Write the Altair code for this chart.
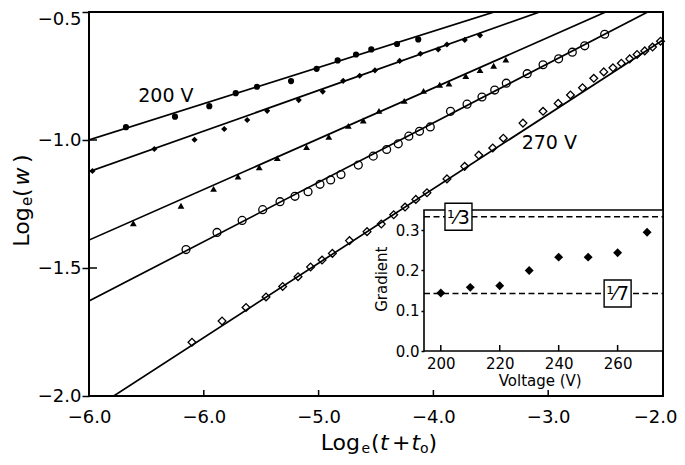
import altair as alt
import pandas as pd

FONT = "DejaVu Sans"
MINUS = "\u2212"

# ---------------- main plot data: Log_e(t + t0) vs Log_e(w) ----------------
s200_x = [-6.678, -6.251, -5.952, -5.722, -5.537, -5.240, -5.017, -4.834, -4.674, -4.541, -4.317, -4.132]
s200_y = [-0.950, -0.909, -0.868, -0.817, -0.792, -0.770, -0.722, -0.689, -0.666, -0.646, -0.625, -0.607]

s210_x = [-6.970, -6.431, -6.081, -5.822, -5.622, -5.448, -5.173, -4.964, -4.786, -4.642, -4.509,
          -4.294, -4.113, -3.958, -3.882, -3.727, -3.594]
s210_y = [-1.121, -1.035, -0.999, -0.957, -0.922, -0.886, -0.844, -0.811, -0.769, -0.749, -0.728,
          -0.691, -0.663, -0.646, -0.627, -0.609, -0.591]

s230_x = [-6.614, -6.199, -5.915, -5.702, -5.517, -5.360, -5.105, -4.911, -4.741, -4.611, -4.474,
          -4.254, -4.086, -3.945, -3.864, -3.718, -3.594, -3.475, -3.369]
s230_y = [-1.325, -1.257, -1.191, -1.143, -1.107, -1.071, -1.028, -0.988, -0.945, -0.924, -0.886,
          -0.847, -0.808, -0.784, -0.780, -0.750, -0.727, -0.710, -0.686]

s240_x = [-6.155, -5.885, -5.666, -5.487, -5.336, -5.206, -5.092, -4.988, -4.895, -4.805, -4.654,
          -4.524, -4.407, -4.306, -4.214, -4.121, -4.027, -3.851, -3.707, -3.577, -3.466, -3.365,
          -3.183, -3.045, -2.909, -2.790, -2.682, -2.508]
s240_y = [-1.428, -1.361, -1.314, -1.272, -1.241, -1.220, -1.202, -1.173, -1.156, -1.135, -1.098,
          -1.063, -1.037, -1.015, -0.985, -0.966, -0.949, -0.888, -0.860, -0.832, -0.805, -0.778,
          -0.741, -0.706, -0.683, -0.657, -0.632, -0.587]

s270_x = [-6.103, -5.841, -5.632, -5.458, -5.313, -5.179, -5.070, -4.970, -4.880, -4.731, -4.578,
          -4.454, -4.346, -4.247, -4.153, -4.056, -3.882, -3.728, -3.605, -3.483, -3.391, -3.220,
          -3.045, -2.913, -2.806, -2.701, -2.603, -2.516, -2.436, -2.363, -2.290, -2.226, -2.159,
          -2.091, -2.022]
s270_y = [-1.790, -1.707, -1.654, -1.613, -1.572, -1.534, -1.496, -1.469, -1.443, -1.393, -1.358,
          -1.328, -1.292, -1.262, -1.232, -1.206, -1.152, -1.103, -1.059, -1.031, -0.993, -0.934,
          -0.888, -0.857, -0.824, -0.796, -0.759, -0.734, -0.718, -0.700, -0.683, -0.666, -0.652,
          -0.637, -0.614]

# fitted straight lines (value at left edge and gradient)
fit_series = ["200 V", "210 V", "230 V", "240 V", "270 V"]
fit_slopes = [0.1417, 0.159, 0.198, 0.232, 0.2907]
fit_at_left = [-1.0, -1.124, -1.391, -1.629, -2.0625]

label_text = ["200 V", "270 V"]
label_x = [-6.571, -3.231]
label_y = [-0.830, -1.0125]

x_domain = [-7.0, -2.0]
y_domain = [-2.0, -0.5]
x_ticks = [-7.0, -6.0, -5.0, -4.0, -3.0, -2.0]
y_ticks = [-2.0, -1.5, -1.0, -0.5]

# ---------------- inset data: gradient vs voltage ----------------
inset_voltage = [200, 210, 220, 230, 240, 250, 260, 270]
inset_gradient = [0.144, 0.158, 0.162, 0.200, 0.233, 0.233, 0.244, 0.295]
inset_x_domain = [194.3, 275.4]
inset_y_domain = [0.0, 0.35]
inset_x_ticks = [200, 220, 240, 260]
inset_y_ticks = [0.0, 0.1, 0.2, 0.3]
ref_values = [1 / 3, 1 / 7]
ref_label_v = [206, 260]
ref_label = ["\u00b9\u20443", "\u00b9\u20447"]

# ---------------- geometry ----------------
W, H = 574, 384
INSET_X_RANGE = [335, 574]
INSET_Y_RANGE = [339, 198]

x_scale = alt.Scale(domain=x_domain, nice=False, zero=False)
y_scale = alt.Scale(domain=y_domain, nice=False, zero=False)

main_x_axis = alt.Axis(
    values=x_ticks, title=None, domain=False, ticks=False, grid=False,
    labelFont=FONT, labelFontSize=18, labelColor="black", labelPadding=12,
    labelFlush=False, labelOverlap=False,
    labelExpr=f"datum.value == -7 ? '{MINUS}6.0' : replace(format(datum.value, '.1f'), '-', '{MINUS}')",
    labelAlign={"condition": {"test": "datum.value == -2", "value": "right"}, "value": "center"},
    labelOffset={"condition": {"test": "datum.value == -2", "value": 14}, "value": 0},
)
main_y_axis = alt.Axis(
    values=y_ticks, title=None, domain=False, grid=False,
    ticks=True, tickSize=7, tickWidth=1.5, tickColor="black",
    labelFont=FONT, labelFontSize=18, labelColor="black", labelPadding=1,
    labelOverlap=False, labelFlush=False,
    labelExpr=f"replace(format(datum.value, '.1f'), '-', '{MINUS}')",
    labelOffset={"condition": {"test": "datum.value == -0.5", "value": 7}, "value": 0},
)

X = alt.X("x:Q", scale=x_scale, axis=main_x_axis)
Y = alt.Y("y:Q", scale=y_scale, axis=main_y_axis)

rows = []
for name, m, b in zip(fit_series, fit_slopes, fit_at_left):
    for xv in x_domain:
        rows.append({"series": name, "x": xv, "y": b + m * (xv - x_domain[0])})
fit_df = pd.DataFrame(rows)

lines = alt.Chart(fit_df).mark_line(color="black", strokeWidth=1.7, clip=True).encode(
    x=X, y=Y, detail="series:N")


def pts(xv, yv):
    return pd.DataFrame({"x": xv, "y": yv})


p200 = alt.Chart(pts(s200_x, s200_y)).mark_point(
    shape="circle", filled=True, size=38, color="black", opacity=1).encode(x=X, y=Y)
p210 = alt.Chart(pts(s210_x, s210_y)).mark_point(
    shape="diamond", filled=True, size=38, color="black", opacity=1).encode(x=X, y=Y)
p230 = alt.Chart(pts(s230_x, s230_y)).mark_point(
    shape="triangle-up", filled=True, size=46, color="black", opacity=1).encode(x=X, y=Y)
p240 = alt.Chart(pts(s240_x, s240_y)).mark_point(
    shape="circle", filled=False, size=62, color="black", strokeWidth=1.3, opacity=1).encode(x=X, y=Y)
p270 = alt.Chart(pts(s270_x, s270_y)).mark_point(
    shape="diamond", filled=False, size=60, color="black", strokeWidth=1.3, opacity=1).encode(x=X, y=Y)

labels = alt.Chart(pd.DataFrame({"x": label_x, "y": label_y, "t": label_text})).mark_text(
    font=FONT, fontSize=19, color="black", align="left", baseline="middle").encode(
    x=X, y=Y, text="t:N")

xtick_in = alt.Chart(pd.DataFrame({"x": x_ticks})).mark_rule(color="black", strokeWidth=1.5).encode(
    x=X, y=alt.value(H), y2=alt.value(H - 6))
ytick_in = alt.Chart(pd.DataFrame({"y": y_ticks})).mark_rule(color="black", strokeWidth=1.5).encode(
    y=Y, x=alt.value(0), x2=alt.value(8))

main = alt.layer(lines, p200, p210, p230, p240, p270, labels, xtick_in, ytick_in)

# ---------------- inset ----------------
inset_x_axis = alt.Axis(
    orient="bottom", offset=-(H - INSET_Y_RANGE[0]), values=inset_x_ticks, title=None,
    domain=False, ticks=False, grid=False, labelFont=FONT, labelFontSize=15,
    labelColor="black", labelPadding=5, labelFlush=False, labelOverlap=False)
inset_y_axis = alt.Axis(
    orient="left", offset=-INSET_X_RANGE[0], values=inset_y_ticks, title=None,
    domain=False, grid=False, ticks=True, tickSize=3, tickWidth=1.5, tickColor="black",
    labelFont=FONT, labelFontSize=15, labelColor="black", labelPadding=2,
    format=".1f", labelFlush=False, labelOverlap=False)

IX = alt.X("v:Q", scale=alt.Scale(domain=inset_x_domain, range=INSET_X_RANGE, nice=False, zero=False),
           axis=inset_x_axis)
IY = alt.Y("g:Q", scale=alt.Scale(domain=inset_y_domain, range=INSET_Y_RANGE, nice=False, zero=False),
           axis=inset_y_axis)

frame = alt.Chart(pd.DataFrame({
    "v": [inset_x_domain[0]], "v2": [inset_x_domain[1]],
    "g": [inset_y_domain[0]], "g2": [inset_y_domain[1]]})).mark_rect(
    fill="white", stroke="black", strokeWidth=1.6).encode(x=IX, x2="v2:Q", y=IY, y2="g2:Q")

dashed = alt.Chart(pd.DataFrame({
    "v": [inset_x_domain[0]] * len(ref_values), "v2": [inset_x_domain[1]] * len(ref_values),
    "g": ref_values})).mark_rule(color="black", strokeWidth=1.6, strokeDash=[6, 3.5]).encode(
    x=IX, x2="v2:Q", y=IY)

inset_pts = alt.Chart(pd.DataFrame({"v": inset_voltage, "g": inset_gradient})).mark_point(
    shape="diamond", filled=True, size=80, color="black", opacity=1).encode(x=IX, y=IY)

ref_df = pd.DataFrame({"v": ref_label_v, "g": ref_values, "t": ref_label})
boxes = alt.Chart(ref_df).mark_square(
    size=729, fill="white", stroke="black", strokeWidth=1.4, opacity=1).encode(x=IX, y=IY)
frac = alt.Chart(ref_df).mark_text(
    font=FONT, fontSize=19, color="black", align="center", baseline="middle", dy=1).encode(
    x=IX, y=IY, text="t:N")

itick_in = alt.Chart(pd.DataFrame({"v": inset_x_ticks})).mark_rule(color="black", strokeWidth=1.5).encode(
    x=IX, y=alt.value(INSET_Y_RANGE[0]), y2=alt.value(INSET_Y_RANGE[0] - 6))

inset = alt.layer(frame, dashed, inset_pts, boxes, frac, itick_in)

# ---------------- titles (composed text, plot-area pixel positions) ----------------
one = pd.DataFrame({"a": [0]})


def txt(s, x, y, size, style="normal", angle=0, align="left", baseline="alphabetic"):
    return alt.Chart(one).mark_text(
        text=s, font=FONT, fontSize=size, fontStyle=style, angle=angle, align=align,
        baseline=baseline, color="black").encode(x=alt.value(x), y=alt.value(y))


OX, OY = 89, 12  # page position of plot origin (for reading the reference)
xb = 450 - OY
x_title = [
    txt("Log", 320.7 - OX, xb, 22),
    txt("e", 361.5 - OX, xb + 2.5, 14),
    txt("(", 371 - OX, xb, 22),
    txt("t", 380 - OX, xb, 22, "italic"),
    txt("+", 392 - OX, xb, 22),
    txt("t", 411.5 - OX, xb, 22, "italic"),
    txt("o", 420 - OX, xb + 2.5, 14),
    txt(")", 428.5 - OX, xb, 22),
]
yb = 29 - OX
y_title = [
    txt("Log", yb, 246.7 - OY, 22, angle=270),
    txt("e", yb + 3, 206 - OY, 15, angle=270),
    txt("(", yb, 197 - OY, 22, angle=270),
    txt("w", yb, 185.5 - OY, 22, "italic", angle=270),
    txt(")", yb, 163 - OY, 22, angle=270),
]
inset_titles = [
    txt("Gradient", 381.5 - OX, 279.2 - OY, 15, angle=270, align="center", baseline="middle"),
    txt("Voltage (V)", 540.2 - OX, 386 - OY, 15, align="center"),
]

chart = alt.layer(main, inset, *x_title, *y_title, *inset_titles).resolve_scale(
    x="independent", y="independent"
).properties(
    width=W, height=H,
    padding={"left": 81, "top": 4, "right": 14, "bottom": 61},
    autosize=alt.AutoSizeParams(type="none"),
).configure_view(stroke="black", strokeWidth=2).configure_axis(
    labelFont=FONT, labelColor="black")

chart.save("out.html", embed_options={"renderer": "svg", "actions": False})
